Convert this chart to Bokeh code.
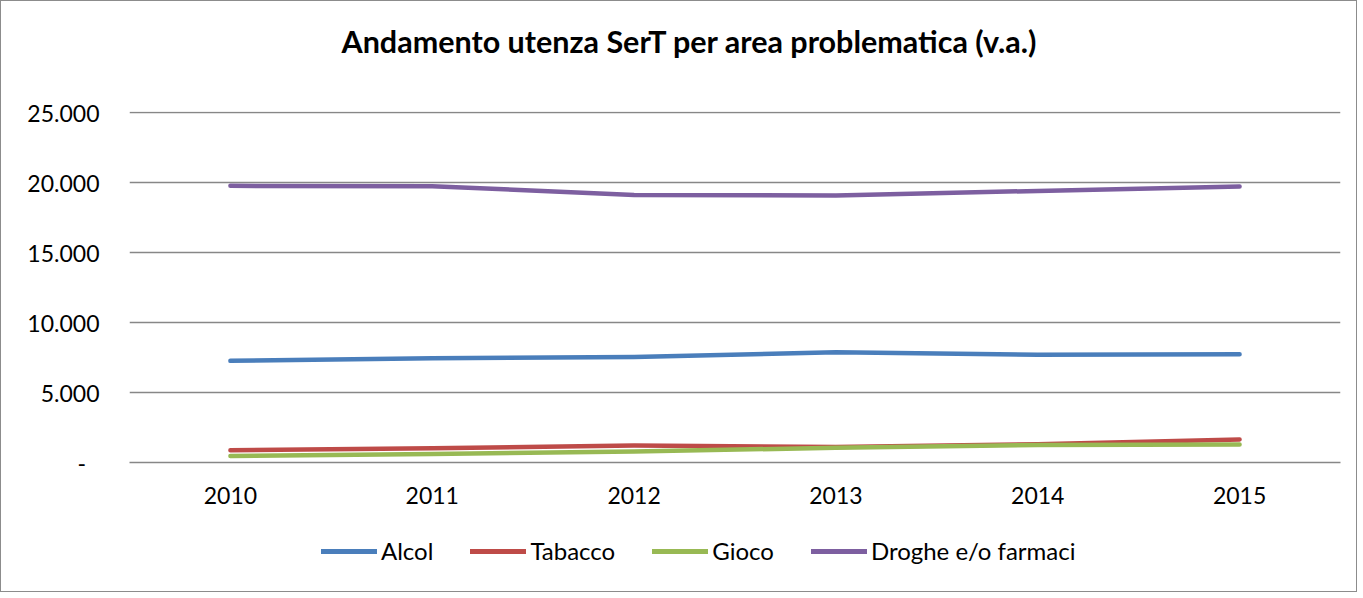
from bokeh.plotting import figure
from bokeh.layouts import column
from bokeh.models import (FactorRange, Range1d, FixedTicker, CustomJSTickFormatter,
                          Legend, LegendItem, Title)
from bokeh.embed import file_html
from bokeh.resources import INLINE

years = ["2010", "2011", "2012", "2013", "2014", "2015"]
alcol = [7260, 7450, 7530, 7880, 7690, 7740]
tabacco = [880, 1020, 1210, 1100, 1300, 1640]
gioco = [470, 600, 790, 1050, 1250, 1290]
droghe = [19760, 19740, 19110, 19080, 19400, 19720]
series_names = ["Alcol", "Tabacco", "Gioco", "Droghe e/o farmaci"]
y_ticks = [0, 5000, 10000, 15000, 20000, 25000]
title_text = "Andamento utenza SerT per area problematica (v.a.)"

colors = ["#4A7EBB", "#BE4B48", "#98B954", "#7D5FA0"]
FONT = "Lato"
W = 1355


def blank(height, **kw):
    f = figure(width=W, height=height, output_backend="svg", toolbar_location=None,
               x_axis_location=None, y_axis_location=None,
               min_border_left=0, min_border_right=0, min_border_top=0, min_border_bottom=0, **kw)
    f.outline_line_color = None
    f.xgrid.grid_line_color = None
    f.ygrid.grid_line_color = None
    f.border_fill_color = "white"
    f.background_fill_color = "white"
    return f


# title strip
p0 = blank(90)
p0.title = Title(text=title_text, align="left", vertical_align="bottom",
                 text_font=FONT, text_font_size="30.5px", text_font_style="bold",
                 text_color="#000000", standoff=38, offset=212)

# main chart
p = figure(width=W, height=430, x_range=FactorRange(*years), y_range=Range1d(0, 25072),
           output_backend="svg", toolbar_location=None,
           min_border_left=128, min_border_right=16, min_border_top=20, min_border_bottom=59)
p.outline_line_color = None
p.background_fill_color = "white"
p.border_fill_color = "white"

p.xgrid.grid_line_color = None
p.ygrid.grid_line_color = "#878787"
p.ygrid.grid_line_width = 1.5
p.yaxis.ticker = FixedTicker(ticks=y_ticks)
p.yaxis.formatter = CustomJSTickFormatter(
    code="return tick == 0 ? '-\u2007' : (tick/1000).toFixed(3);")
p.yaxis.axis_line_color = None
p.yaxis.major_tick_line_color = None
p.yaxis.minor_tick_line_color = None
p.yaxis.major_label_standoff = 24
p.xaxis.axis_line_color = "#878787"
p.xaxis.axis_line_width = 1.5
p.xaxis.major_tick_line_color = None
p.xaxis.minor_tick_line_color = None
p.xaxis.major_label_standoff = 18
for ax in (p.xaxis, p.yaxis):
    ax.major_label_text_font = FONT
    ax.major_label_text_font_size = "23px"
    ax.major_label_text_color = "#000000"

for vals, c in zip([alcol, tabacco, gioco, droghe], colors):
    p.line(years, vals, line_color=c, line_width=4.5, line_cap="round", line_join="round")

# legend strip below the chart; its lines lie outside its (empty) view, only the legend shows
p2 = blank(70, x_range=FactorRange(*years), y_range=Range1d(-2, -1))
items = []
for name, vals, c in zip(series_names, [alcol, tabacco, gioco, droghe], colors):
    r = p2.line(years, vals, line_color=c, line_width=5, line_cap="round")
    items.append(LegendItem(label=name, renderers=[r]))

legend = Legend(items=items, orientation="horizontal", location=(192, 26),
                label_text_font=FONT, label_text_font_size="24px", label_text_color="#000000",
                glyph_width=56, label_standoff=4, spacing=37, border_line_color=None,
                background_fill_alpha=0, margin=0, padding=0)
p2.add_layout(legend)

layout = column(p0, p, p2, spacing=0)
layout.styles = {"border": "1.5px solid #8c8c8c"}

open("out.html", "w").write(file_html(layout, INLINE))
